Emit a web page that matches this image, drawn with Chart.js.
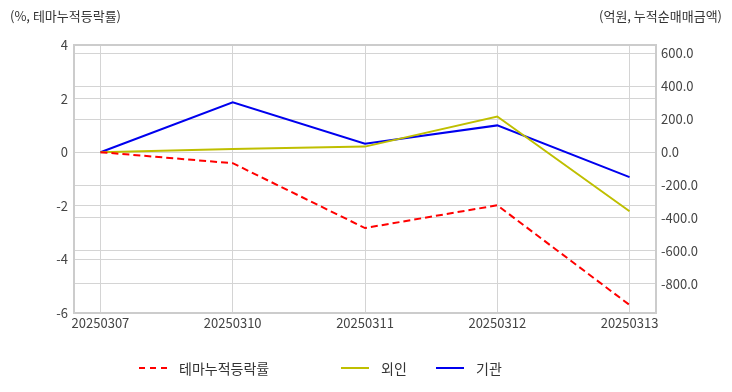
<!DOCTYPE html>
<html>
<head>
<meta charset="utf-8">
<script src="https://cdn.jsdelivr.net/npm/chart.js@4.4.1/dist/chart.umd.min.js"></script>
<style>
    body { margin: 0; background: #fff; font-family: 'Noto Sans CJK KR', 'Noto Sans', sans-serif; }
    .wrap { position: relative; width: 732px; height: 392px; }
    .axis-title { position: absolute; top: 6px; font-size: 13px; color: #333; }
    .legend { position: absolute; top: 358px; left: 0; font-size: 14px; color: #333; }
    .legend .item { position: absolute; top: 0; display: flex; align-items: center; white-space: nowrap; }
    .legend .sample { width: 28px; height: 0; margin-right: 12px; }
</style>
</head>
<body>
<div class="wrap">
    <canvas id="trendChart" width="732" height="392"></canvas>
    <div class="axis-title" style="left: 10px;">(%, 테마누적등락률)</div>
    <div class="axis-title" style="right: 10px;">(억원, 누적순매매금액)</div>
    <div class="legend">
        <div class="item" style="left: 139px;"><span class="sample" style="border-top: 2px dashed #ff0000;"></span>테마누적등락률</div>
        <div class="item" style="left: 341px;"><span class="sample" style="border-top: 2px solid #bfbf00;"></span>외인</div>
        <div class="item" style="left: 436px;"><span class="sample" style="border-top: 2px solid #0000ee;"></span>기관</div>
    </div>
</div>
<script>
// data
const dates = ['20250307', '20250310', '20250311', '20250312', '20250313'];
const themeRate = [0, -0.41, -2.83, -1.98, -5.70];   // %, left axis
const foreign = [0, 20, 34, 217, -359];              // 억원, right axis
const institution = [0, 303, 52, 163, -152];         // 억원, right axis
const leftTicks = [-6, -4, -2, 0, 2, 4];
const rightTicks = [-800, -600, -400, -200, 0, 200, 400, 600];

function toPoints(values) {
    return values.map(function(v, i) { return { x: i, y: v }; });
}

const tickFont = { family: "'Noto Sans CJK KR', 'Noto Sans', sans-serif", size: 13 };

// thick grey frame round the plot area
const framePlugin = {
    id: 'frame',
    beforeDatasetsDraw: function(chart) {
        const a = chart.chartArea;
        const ctx = chart.ctx;
        ctx.save();
        ctx.strokeStyle = '#cccccc';
        ctx.lineWidth = 2;
        ctx.strokeRect(a.left, a.top, a.right - a.left, a.bottom - a.top);
        ctx.restore();
    }
};

const ctx = document.getElementById('trendChart').getContext('2d');
const trendChart = new Chart(ctx, {
    type: 'line',
    data: {
        datasets: [{
            label: '테마누적등락률',
            data: toPoints(themeRate),
            yAxisID: 'y',
            borderColor: '#ff0000',
            borderWidth: 2,
            borderDash: [7, 4],
            pointRadius: 0,
            tension: 0
        }, {
            label: '외인',
            data: toPoints(foreign),
            yAxisID: 'y1',
            borderColor: '#bfbf00',
            borderWidth: 2,
            pointRadius: 0,
            tension: 0
        }, {
            label: '기관',
            data: toPoints(institution),
            yAxisID: 'y1',
            borderColor: '#0000ee',
            borderWidth: 2,
            pointRadius: 0,
            tension: 0
        }]
    },
    options: {
        responsive: false,
        animation: false,
        layout: { padding: { top: 45, bottom: 59, left: 0, right: 0 } },
        plugins: {
            legend: { display: false },
            tooltip: { enabled: false }
        },
        scales: {
            x: {
                type: 'linear',
                min: -0.2,
                max: 4.2,
                afterBuildTicks: function(axis) {
                    axis.ticks = dates.map(function(d, i) { return { value: i }; });
                },
                afterFit: function(axis) { axis.height = 20; },
                ticks: {
                    font: tickFont,
                    color: '#444',
                    padding: 2,
                    maxRotation: 0,
                    autoSkip: false,
                    callback: function(value) { return dates[value]; }
                },
                grid: { color: '#d4d4d4', drawTicks: false },
                border: { display: false }
            },
            y: {
                position: 'left',
                min: -6,
                max: 4,
                afterBuildTicks: function(axis) {
                    axis.ticks = leftTicks.map(function(v) { return { value: v }; });
                },
                afterFit: function(axis) { axis.width = 74; },
                ticks: { font: tickFont, color: '#444', padding: 6 },
                grid: { color: '#d4d4d4', drawTicks: false },
                border: { display: false }
            },
            y1: {
                position: 'right',
                min: -978,
                max: 652,
                afterBuildTicks: function(axis) {
                    axis.ticks = rightTicks.map(function(v) { return { value: v }; });
                },
                afterFit: function(axis) { axis.width = 76; },
                ticks: {
                    font: tickFont,
                    color: '#444',
                    padding: 5,
                    callback: function(value) { return value.toFixed(1); }
                },
                grid: { color: '#d4d4d4', drawTicks: false },
                border: { display: false }
            }
        }
    },
    plugins: [framePlugin]
});
</script>
</body>
</html>
